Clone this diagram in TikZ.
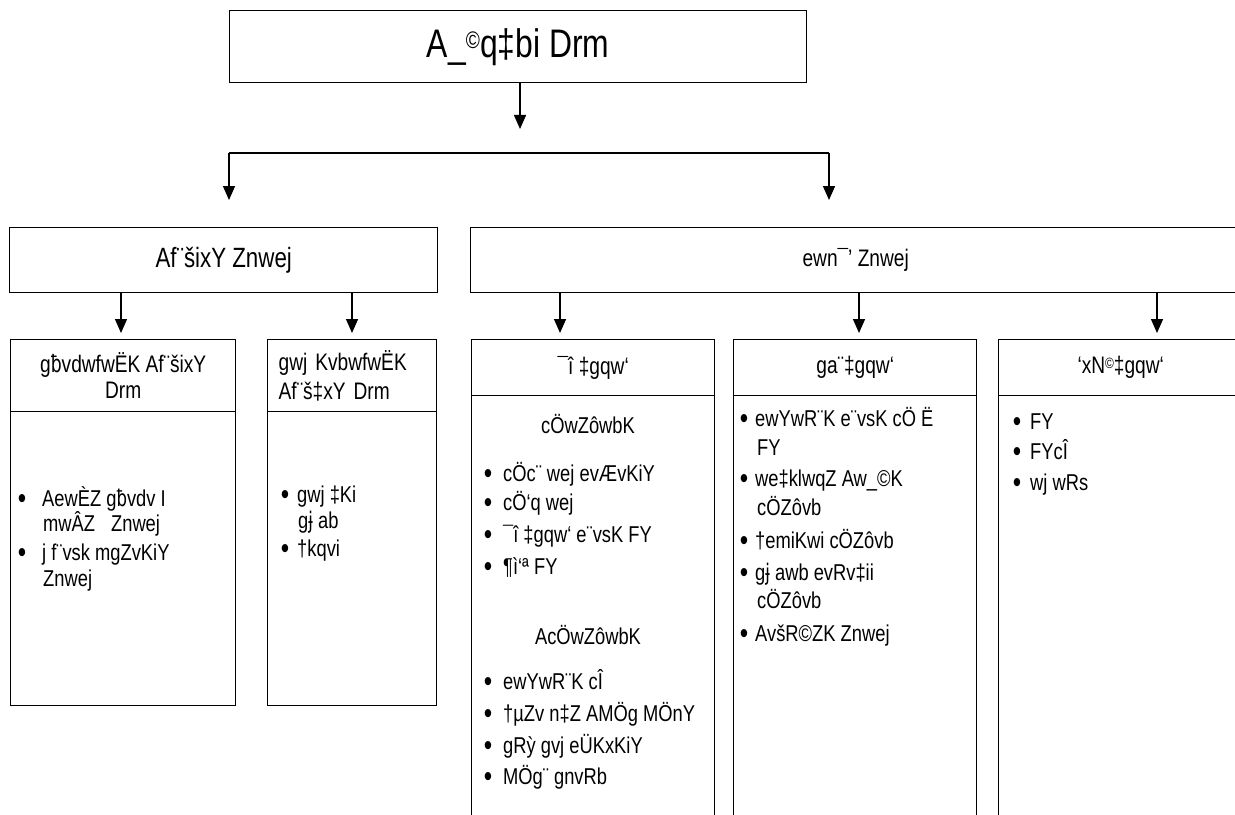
\documentclass[tikz,border=0pt]{standalone}
\usepackage{fontspec}
\setmainfont{Liberation Sans}[FakeStretch=0.8]
\newfontfamily\djv{DejaVu Sans}[FakeStretch=0.72]
\usetikzlibrary{arrows.meta}
\newcommand\fsbody{\fontsize{23}{27}\selectfont}
\begin{document}
\begin{tikzpicture}[x=1bp,y=1bp,
  box/.style={draw, line width=1.4bp, inner sep=0pt, anchor=north west},
  arr/.style={-{Triangle[length=14bp,width=12bp]}, line width=1.4bp},
  ln/.style={line width=1.4bp},
  tx/.style={anchor=base west, inner sep=0pt, font=\fsbody},
  ct/.style={anchor=base, inner sep=0pt, font=\fsbody},
  bu/.style={anchor=base, inner sep=0pt, font=\fontsize{30}{30}\selectfont}]
\useasboundingbox (0,0) rectangle (1235,-815);
\clip (0,0) rectangle (1235,-815);
% top
\node[box, minimum width=577bp, minimum height=72bp, font=\fontsize{40}{46}\selectfont] (top) at (229,-10) {A\_{\fontsize{24}{24}\selectfont\raisebox{9bp}{©}}q‡bi Drm};
\coordinate (c0) at (520,-129);
\coordinate (hl) at (229,-153);
\coordinate (hr) at (829,-153);
\coordinate (tl) at (229,-200);
\coordinate (tr) at (829,-200);
\draw[arr] (top.south -| c0) -- (c0);
\draw[ln] (hl) -- (hr);
\draw[arr] (hl) -- (tl);
\draw[arr] (hr) -- (tr);
% level 2
\node[box, minimum width=428bp, minimum height=65bp, font=\fontsize{28}{32}\selectfont] (L2a) at (9,-227) {Af¨šixY Znwej};
\node[box, minimum width=770bp, minimum height=65bp, font=\fontsize{24}{28}\selectfont] (L2b) at (470,-227) {ewn¯’ Znwej};
% level 3 headers and bodies
\node[box, minimum width=225bp, minimum height=72bp, align=center, font=\fontsize{24}{26}\selectfont] (h1) at (10,-339) {g{\djv ƀ}vdwfwËK Af¨šixY\\Drm};
\node[box, minimum width=225bp, minimum height=294bp] (b1) at (10,-411) {};
\node[box, minimum width=169bp, minimum height=72bp, inner xsep=11bp, text width=147bp, align=left, font=\fontsize{24}{29}\selectfont] (h2) at (267,-339) {gwj KvbwfwËK\\Af¨š‡xY Drm};
\node[box, minimum width=169bp, minimum height=294bp] (b2) at (267,-411) {};
\node[box, minimum width=243bp, minimum height=56bp, font=\fontsize{24}{27}\selectfont] (h3) at (471,-339) {¯î ‡gqw`};
\node[box, minimum width=243bp, minimum height=440bp] (b3) at (471,-395) {};
\node[box, minimum width=243bp, minimum height=56bp, font=\fontsize{24}{27}\selectfont] (h4) at (733,-339) {ga¨‡gqw`};
\node[box, minimum width=243bp, minimum height=440bp] (b4) at (733,-395) {};
\node[box, minimum width=244bp, minimum height=56bp, font=\fontsize{24}{27}\selectfont] (h5) at (998,-339) {`xN{\fontsize{15}{15}\selectfont\raisebox{5bp}{©}}‡gqw`};
\node[box, minimum width=244bp, minimum height=440bp] (b5) at (998,-395) {};
% arrows to level 3
\coordinate (x1) at (121,0);
\coordinate (x2) at (352,0);
\coordinate (x3) at (560,0);
\coordinate (x4) at (859,0);
\coordinate (x5) at (1157,0);
\draw[arr, shorten >=6bp] (L2a.south -| x1) -- (h1.north -| x1);
\draw[arr, shorten >=6bp] (L2a.south -| x2) -- (h2.north -| x2);
\draw[arr, shorten >=6bp] (L2b.south -| x3) -- (h3.north -| x3);
\draw[arr, shorten >=6bp] (L2b.south -| x4) -- (h4.north -| x4);
\draw[arr, shorten >=6bp] (L2b.south -| x5) -- (h5.north -| x5);
% box 1 body
\node[bu] (b1a) at (22,-508) {•};
\node[tx] (b1at) at (42,-506) {AewÈZ g{\djv ƀ}vdv I};
\node[tx] (b1au) at (43,-531) {mwÂZ\hspace{16bp}Znwej};
\node[bu] (b1b) at (22,-562) {•};
\node[tx] (b1bt) at (42,-560) {j f¨vsk mgZvKiY};
\node[tx] (b1bu) at (43,-586) {Znwej};
% box 2 body
\node[bu] (b2a) at (285,-504) {•};
\node[tx] (b2at) at (297,-502) {gwj ‡Ki};
\node[tx] (b2au) at (298,-528) {g{\djv ɉ} ab};
\node[bu] (b2b) at (285,-558) {•};
\node[tx] (b2bt) at (297,-556) {†kqvi};
% box 3 body
\node[ct] (b3h) at (588,-433) {cÖwZôwbK};
\node[bu] (b3a) at (488,-483) {•};
\node[tx] (b3at) at (503,-481) {cÖc¨ wej evÆvKiY};
\node[bu] (b3b) at (488,-512) {•};
\node[tx] (b3bt) at (503,-510) {cÖ`q wej};
\node[bu] (b3c) at (488,-544) {•};
\node[tx] (b3ct) at (503,-542) {¯î ‡gqw` e¨vsK FY};
\node[bu] (b3d) at (488,-576) {•};
\node[tx] (b3dt) at (503,-574) {¶ì`ª FY};
\node[ct] (b3k) at (588,-644) {AcÖwZôwbK};
\node[bu] (b3e) at (488,-691) {•};
\node[tx] (b3et) at (503,-689) {ewYwR¨K cÎ};
\node[bu] (b3f) at (488,-723) {•};
\node[tx] (b3ft) at (503,-721) {†µZv n‡Z AMÖg MÖnY};
\node[bu] (b3g) at (488,-755) {•};
\node[tx] (b3gt) at (503,-753) {gRỳ gvj eÜKxKiY};
\node[bu] (b3i) at (488,-786) {•};
\node[tx] (b3it) at (503,-784) {MÖg¨ gnvRb};
% box 4 body
\node[bu] (b4a) at (744,-428) {•};
\node[tx] (b4at) at (755,-426) {ewYwR¨K e¨vsK cÖ Ë};
\node[tx] (b4au) at (757,-455) {FY};
\node[bu] (b4b) at (744,-488) {•};
\node[tx] (b4bt) at (755,-486) {we‡klwqZ Aw\_©K};
\node[tx] (b4bu) at (757,-515) {cÖZôvb};
\node[bu] (b4c) at (744,-550) {•};
\node[tx] (b4ct) at (755,-548) {†emiKwi cÖZôvb};
\node[bu] (b4d) at (744,-582) {•};
\node[tx] (b4dt) at (755,-580) {g{\djv ɉ} awb evRv‡ii};
\node[tx] (b4du) at (757,-608) {cÖZôvb};
\node[bu] (b4e) at (744,-643) {•};
\node[tx] (b4et) at (755,-641) {AvšR©ZK Znwej};
% box 5 body
\node[bu] (b5a) at (1017,-431) {•};
\node[tx] (b5at) at (1030,-429) {FY};
\node[bu] (b5b) at (1017,-461) {•};
\node[tx] (b5bt) at (1030,-459) {FYcÎ};
\node[bu] (b5c) at (1017,-492) {•};
\node[tx] (b5ct) at (1030,-490) {wj wRs};
\end{tikzpicture}
\end{document}
